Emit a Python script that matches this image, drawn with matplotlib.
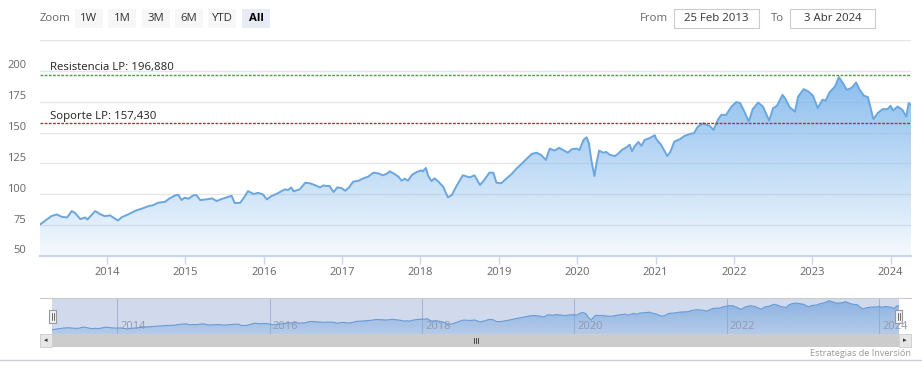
import numpy as np
import matplotlib
matplotlib.use("Agg")
import matplotlib.pyplot as plt
from matplotlib.patches import Rectangle
from matplotlib.colors import LinearSegmentedColormap
from matplotlib.transforms import blended_transform_factory

plt.rcParams['font.family'] = ['Open Sans', 'DejaVu Sans']

# --- Data (decimal year, price) ---
years = [
    2013.145, 2013.21, 2013.29, 2013.36, 2013.42, 2013.49, 2013.55, 2013.59, 2013.66, 2013.72,
    2013.75, 2013.85, 2013.91, 2013.97, 2014.04, 2014.08, 2014.14, 2014.19, 2014.27, 2014.36,
    2014.44, 2014.53, 2014.59, 2014.65, 2014.74, 2014.80, 2014.87, 2014.91, 2014.95, 2014.99,
    2015.04, 2015.10, 2015.14, 2015.19, 2015.27, 2015.34, 2015.40, 2015.46, 2015.55, 2015.59,
    2015.63, 2015.70, 2015.75, 2015.80, 2015.87, 2015.93, 2015.99, 2016.04, 2016.10, 2016.16,
    2016.27, 2016.31, 2016.35, 2016.38, 2016.46, 2016.53, 2016.59, 2016.65, 2016.72, 2016.76,
    2016.80, 2016.84, 2016.89, 2016.94, 2016.99, 2017.04, 2017.09, 2017.14, 2017.21, 2017.27,
    2017.33, 2017.40, 2017.46, 2017.52, 2017.57, 2017.61, 2017.67, 2017.72, 2017.76, 2017.80,
    2017.84, 2017.89, 2017.95, 2018.01, 2018.03, 2018.07, 2018.10, 2018.14, 2018.18, 2018.23,
    2018.29, 2018.35, 2018.40, 2018.46, 2018.54, 2018.63, 2018.69, 2018.76, 2018.82, 2018.88,
    2018.93, 2018.97, 2019.03, 2019.10, 2019.16, 2019.23, 2019.29, 2019.35, 2019.42, 2019.48,
    2019.54, 2019.60, 2019.65, 2019.71, 2019.77, 2019.82, 2019.88, 2019.93, 2019.99, 2020.03,
    2020.08, 2020.12, 2020.15, 2020.18, 2020.22, 2020.25, 2020.28, 2020.33, 2020.37, 2020.42,
    2020.48, 2020.52, 2020.57, 2020.63, 2020.67, 2020.70, 2020.73, 2020.78, 2020.82, 2020.86,
    2020.93, 2020.99, 2021.01, 2021.07, 2021.15, 2021.19, 2021.24, 2021.31, 2021.37, 2021.44,
    2021.49, 2021.54, 2021.61, 2021.63, 2021.69, 2021.74, 2021.80, 2021.84, 2021.90, 2021.97,
    2022.03, 2022.08, 2022.14, 2022.19, 2022.24, 2022.31, 2022.37, 2022.45, 2022.50, 2022.55,
    2022.62, 2022.66, 2022.71, 2022.78, 2022.82, 2022.89, 2022.95, 2023.01, 2023.07, 2023.13,
    2023.17, 2023.22, 2023.29, 2023.34, 2023.39, 2023.44, 2023.50, 2023.56, 2023.60, 2023.66,
    2023.71, 2023.75, 2023.78, 2023.84, 2023.90, 2023.96, 2024.00, 2024.03, 2024.09, 2024.15,
    2024.20, 2024.23, 2024.26,
]
prices = [
    75.5, 78.5, 82.3, 83.7, 81.8, 81.2, 86.4, 85.0, 79.9, 81.2,
    79.6, 86.4, 84.0, 82.3, 82.9, 81.2, 78.8, 81.5, 83.7, 86.6,
    88.3, 90.4, 91.2, 93.1, 93.9, 96.7, 99.1, 99.6, 95.3, 97.2,
    96.4, 99.1, 99.4, 95.3, 95.9, 96.7, 94.5, 96.1, 98.0, 98.8,
    92.9, 93.1, 97.5, 102.6, 100.2, 101.2, 99.9, 95.9, 98.6, 100.2,
    104.0, 103.4, 105.6, 102.4, 104.0, 109.4, 108.9, 107.5, 105.6, 107.2,
    106.7, 106.7, 101.8, 105.6, 105.1, 102.9, 105.6, 110.2, 111.0, 112.9,
    114.2, 117.5, 117.0, 115.4, 116.7, 118.6, 116.4, 114.2, 111.0, 112.6,
    111.0, 115.6, 118.0, 119.4, 118.6, 121.3, 114.8, 110.7, 112.9, 110.2,
    106.1, 97.5, 99.4, 106.7, 115.4, 113.7, 115.4, 107.5, 112.1, 117.5,
    117.5, 109.4, 108.9, 112.9, 116.2, 121.1, 124.6, 128.4, 132.7, 133.7,
    131.9, 127.8, 137.0, 135.4, 137.6, 135.9, 133.7, 136.5, 137.0, 135.9,
    144.0, 146.2, 141.4, 127.8, 114.8, 126.4, 135.4, 133.7, 134.3, 131.9,
    131.0, 132.7, 135.9, 138.1, 140.2, 134.9, 138.6, 142.4, 139.2, 144.0,
    145.7, 147.9, 144.6, 140.2, 131.0, 134.5, 142.7, 144.6, 147.3, 148.9,
    149.5, 154.9, 157.6, 157.0, 155.4, 152.2, 160.9, 164.4, 164.4, 171.1,
    174.7, 173.9, 166.2, 158.9, 169.0, 174.3, 171.1, 159.7, 169.8, 171.7,
    180.6, 177.1, 170.6, 167.0, 179.2, 185.2, 183.3, 179.8, 169.8, 176.6,
    175.8, 182.5, 187.4, 195.0, 190.2, 184.7, 186.1, 190.6, 185.2, 179.8,
    178.8, 168.4, 160.9, 166.2, 169.0, 169.0, 171.7, 167.9, 171.1, 168.4,
    163.0, 173.9, 172.5,
]

resistance = 196.880
support = 157.430
y_ticks = [50, 75, 100, 125, 150, 175, 200, 225]
x_ticks = list(range(2014, 2025))
nav_ticks = [2014, 2016, 2018, 2020, 2022, 2024]
zoom_buttons = ['1W', '1M', '3M', '6M', 'YTD', 'All']
date_from = '25 Feb 2013'
date_to = '3 Abr 2024'

W, H = 922, 380
BLUE = '#7cb5ec'
LINE = '#6aa6df'


def px_axes(fig, x0, y0, x1, y1):
    # pixel box (top-left origin) -> axes
    return fig.add_axes([x0 / W, 1 - y1 / H, (x1 - x0) / W, (y1 - y0) / H])


def gradient_fill(ax, x, y, base, top, a_top, a_bot):
    poly = ax.fill_between(x, y, base, color='none', lw=0)
    path = poly.get_paths()[0]
    cmap = LinearSegmentedColormap.from_list(
        'g', [(124 / 255, 181 / 255, 236 / 255, a_bot), (124 / 255, 181 / 255, 236 / 255, a_top)])
    grad = np.linspace(0, 1, 256).reshape(-1, 1)
    img = ax.imshow(grad, origin='lower', aspect='auto', cmap=cmap, vmin=0, vmax=1,
                    extent=(min(x), max(x), base, top), zorder=1)
    img.set_clip_path(path, transform=ax.transData)


fig = plt.figure(figsize=(W / 100, H / 100), dpi=100)

# --- Main chart ---
ax = px_axes(fig, 40, 40, 911, 256)
gradient_fill(ax, years, prices, 50, max(prices), 0.88, 0.08)
ax.plot(years, prices, color=LINE, lw=1.4, zorder=3)
ax.set_xlim(years[0], years[-1])
ax.set_ylim(50, 225)

for v in y_ticks:
    ax.axhline(v, color='#e6e6e6', lw=1, zorder=0)
ytr = blended_transform_factory(ax.transAxes, ax.transData)
for v in y_ticks[:-1]:
    ax.text(-0.016, v - 0.3, str(v), transform=ytr, ha='right', va='bottom',
            fontsize=8, color='#666666')

ax.axhline(resistance, color='#4a9e4a', lw=1, ls=(0, (2, 1)), zorder=4)
ax.axhline(support, color='#b0303a', lw=1, ls=(0, (2, 1)), zorder=4)
ax.text(0.011, resistance + 1.2, 'Resistencia LP: 196,880', transform=ytr,
        ha='left', va='bottom', fontsize=8.2, color='#222222', zorder=5)
ax.text(0.011, support + 1.2, 'Soporte LP: 157,430', transform=ytr,
        ha='left', va='bottom', fontsize=8.2, color='#222222', zorder=5)

ax.set_yticks([])
ax.set_xticks(x_ticks)
ax.set_xticklabels([str(y) for y in x_ticks], fontsize=8, color='#666666')
ax.tick_params(axis='x', length=6, width=1, color='#ccd6eb', pad=2)
for s in ['top', 'left', 'right']:
    ax.spines[s].set_visible(False)
ax.spines['bottom'].set_color('#ccd6eb')
ax.spines['bottom'].set_linewidth(1.6)

# --- Navigator ---
nav = px_axes(fig, 52, 298, 899, 334)
gradient_fill(nav, years, prices, 58, max(prices), 0.75, 0.3)
nav.plot(years, prices, color=LINE, lw=0.8, zorder=2)
nav.set_xlim(years[0], years[-1])
nav.set_ylim(58, 206)
nav.add_patch(Rectangle((0, 0), 1, 1, transform=nav.transAxes,
                        facecolor=(102 / 255, 133 / 255, 194 / 255, 0.3), lw=0, zorder=3))
for yr in nav_ticks:
    nav.axvline(yr, color='#c4cbd9', lw=0.8, zorder=0)
    nav.text(yr + 0.04, 0.2, str(yr), transform=blended_transform_factory(nav.transData, nav.transAxes),
             fontsize=8, color='#8e9aae', ha='left', va='center', zorder=4)
nav.set_xticks([])
nav.set_yticks([])
for s in nav.spines.values():
    s.set_visible(False)

# --- Overlay for UI pieces (pixel coordinates) ---
ov = fig.add_axes([0, 0, 1, 1], zorder=10)
ov.set_xlim(0, W)
ov.set_ylim(H, 0)
ov.axis('off')
ov.patch.set_alpha(0)

# navigator outline
ov.plot([40, 911], [297.5, 297.5], color='#cccccc', lw=0.8)

# scrollbar
ov.add_patch(Rectangle((40, 334), 871, 13, facecolor='#f2f2f2', lw=0))
ov.add_patch(Rectangle((52, 334), 847, 13, facecolor='#cccccc', lw=0))
ov.add_patch(Rectangle((40, 334), 12, 13, facecolor='#e6e6e6', edgecolor='#cccccc', lw=0.6))
ov.add_patch(Rectangle((899, 334), 12, 13, facecolor='#e6e6e6', edgecolor='#cccccc', lw=0.6))
ov.text(46, 340.5, '\u25c2', ha='center', va='center', fontsize=5, color='#333333',
        family='DejaVu Sans')
ov.text(905, 340.5, '\u25b8', ha='center', va='center', fontsize=5, color='#333333',
        family='DejaVu Sans')
for gx in (473.5, 475.5, 477.5):
    ov.plot([gx, gx], [338, 343], color='#333333', lw=0.6)

# navigator handles
for hx in (52.5, 898.5):
    ov.add_patch(Rectangle((hx - 3.5, 309.5), 7, 13, facecolor='#f2f2f2', edgecolor='#999999', lw=0.8))
    ov.plot([hx - 1, hx - 1], [312.5, 319.5], color='#333333', lw=0.5)
    ov.plot([hx + 1, hx + 1], [312.5, 319.5], color='#333333', lw=0.5)

# range selector
ov.text(40, 18.5, 'Zoom', ha='left', va='center', fontsize=8.2, color='#666666')
btn_x = [75, 108, 142, 175, 208, 242]
for bx, lab in zip(btn_x, zoom_buttons):
    sel = lab == 'All'
    ov.add_patch(Rectangle((bx, 9), 28, 19, facecolor='#e6ebf5' if sel else '#f7f7f7', lw=0))
    ov.text(bx + 14, 18.5, lab, ha='center', va='center', fontsize=8.2,
            color='#000000' if sel else '#333333', fontweight='bold' if sel else 'normal')

ov.text(668, 18.5, 'From', ha='right', va='center', fontsize=8.2, color='#666666')
ov.add_patch(Rectangle((674, 9), 85, 19, facecolor='white', edgecolor='#cccccc', lw=0.8))
ov.text(716.5, 18.5, date_from, ha='center', va='center', fontsize=8.2, color='#333333')
ov.text(784, 18.5, 'To', ha='right', va='center', fontsize=8.2, color='#666666')
ov.add_patch(Rectangle((790, 9), 85, 19, facecolor='white', edgecolor='#cccccc', lw=0.8))
ov.text(832.5, 18.5, date_to, ha='center', va='center', fontsize=8.2, color='#333333')

# footer
ov.plot([0, W], [360, 360], color='#ccccd9', lw=1)
ov.text(911, 353, 'Estrategias de Inversi\u00f3n', ha='right', va='center',
        fontsize=6.6, color='#999999')

fig.savefig('out.png', dpi=100)
